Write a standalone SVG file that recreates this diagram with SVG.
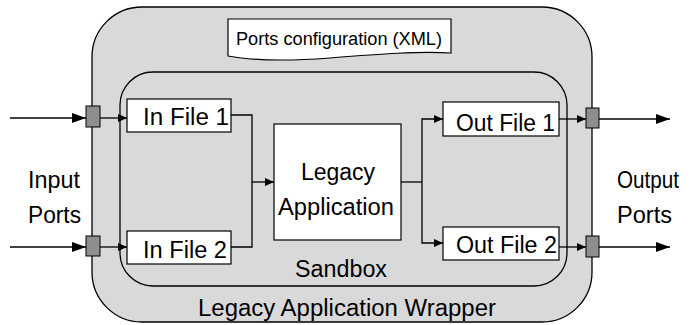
<svg xmlns="http://www.w3.org/2000/svg" width="690" height="325" viewBox="0 0 690 325">
  <style>
    .frame { fill: #d9d9d9; stroke: #000; stroke-width: 1.3; }
    .box { fill: #fff; stroke: #000; stroke-width: 1.2; }
    .port { fill: #8e8e8e; stroke: #000; stroke-width: 1; }
    .wire { fill: none; stroke: #000; stroke-width: 1.3; }
    text { font-family: "Liberation Sans", Arial, Helvetica, sans-serif; font-size: 23px; fill: #000; }
    .small { font-size: 18px; }
  </style>
  <defs>
    <marker id="bigArrow" markerUnits="userSpaceOnUse" markerWidth="15" markerHeight="10" refX="14" refY="5" orient="auto">
      <path d="M0,0 L14,5 L0,10 Z" fill="#000"/>
    </marker>
    <marker id="smallArrow" markerUnits="userSpaceOnUse" markerWidth="10" markerHeight="8" refX="9" refY="4" orient="auto">
      <path d="M0,0 L9,4 L0,8 Z" fill="#000"/>
    </marker>
  </defs>

  <!-- wrapper container -->
  <g id="wrapper">
    <rect class="frame" x="92" y="7" width="500" height="315" rx="50" ry="50"/>
    <text x="198" y="316" textLength="298" lengthAdjust="spacingAndGlyphs">Legacy Application Wrapper</text>
  </g>

  <!-- ports configuration document -->
  <g id="ports-config">
    <path class="box" d="M228,19 H451 V53 C420,51 380,54 330,58 C290,61 255,61 228,56 Z"/>
    <text class="small" x="236" y="45" textLength="206" lengthAdjust="spacingAndGlyphs">Ports configuration (XML)</text>
  </g>

  <!-- sandbox container -->
  <g id="sandbox">
    <rect class="frame" x="120" y="72" width="447" height="214" rx="33" ry="33"/>
    <text x="295" y="277" textLength="92" lengthAdjust="spacingAndGlyphs">Sandbox</text>
  </g>

  <g id="in-file-1">
    <rect class="box" x="127" y="99" width="104" height="33"/>
    <text x="143" y="125" textLength="86" lengthAdjust="spacingAndGlyphs">In File 1</text>
  </g>
  <g id="in-file-2">
    <rect class="box" x="127" y="231" width="104" height="33"/>
    <text x="143" y="258" textLength="84" lengthAdjust="spacingAndGlyphs">In File 2</text>
  </g>

  <g id="legacy-app">
    <rect class="box" x="274" y="124" width="127" height="116"/>
    <text x="338" y="180" text-anchor="middle">Legacy</text>
    <text x="336" y="215" text-anchor="middle" textLength="116" lengthAdjust="spacingAndGlyphs">Application</text>
  </g>

  <g id="out-file-1">
    <rect class="box" x="443" y="102" width="116" height="34"/>
    <text x="456" y="131" textLength="99" lengthAdjust="spacingAndGlyphs">Out File 1</text>
  </g>
  <g id="out-file-2">
    <rect class="box" x="443" y="227" width="116" height="33"/>
    <text x="456" y="253" textLength="101" lengthAdjust="spacingAndGlyphs">Out File 2</text>
  </g>

  <g id="input-port-1"><rect class="port" x="86" y="106" width="14" height="21"/></g>
  <g id="input-port-2"><rect class="port" x="86" y="236" width="14" height="20"/></g>
  <g id="output-port-1"><rect class="port" x="586" y="108" width="13" height="20"/></g>
  <g id="output-port-2"><rect class="port" x="586" y="236" width="13" height="21"/></g>

  <g id="input-label">
    <text x="28" y="188" textLength="52" lengthAdjust="spacingAndGlyphs">Input</text>
    <text x="28" y="223" textLength="53" lengthAdjust="spacingAndGlyphs">Ports</text>
  </g>
  <g id="output-label">
    <text x="617" y="188" textLength="62" lengthAdjust="spacingAndGlyphs">Output</text>
    <text x="617" y="223" textLength="55" lengthAdjust="spacingAndGlyphs">Ports</text>
  </g>

  <!-- connectors -->
  <g id="connectors">
    <path class="wire" d="M10,118 H86" marker-end="url(#bigArrow)"/>
    <path class="wire" d="M10,247 H86" marker-end="url(#bigArrow)"/>
    <path class="wire" d="M100,118 H127" marker-end="url(#smallArrow)"/>
    <path class="wire" d="M100,247 H127" marker-end="url(#smallArrow)"/>
    <path class="wire" d="M231,115 H252 V247 H231"/>
    <path class="wire" d="M252,182 H274" marker-end="url(#smallArrow)"/>
    <path class="wire" d="M401,182 H422"/>
    <path class="wire" d="M422,182 V119 H443" marker-end="url(#smallArrow)"/>
    <path class="wire" d="M422,182 V243 H443" marker-end="url(#smallArrow)"/>
    <path class="wire" d="M559,119 H586" marker-end="url(#smallArrow)"/>
    <path class="wire" d="M559,247 H586" marker-end="url(#smallArrow)"/>
    <path class="wire" d="M599,119 H670" marker-end="url(#bigArrow)"/>
    <path class="wire" d="M599,247 H670" marker-end="url(#bigArrow)"/>
  </g>
</svg>
